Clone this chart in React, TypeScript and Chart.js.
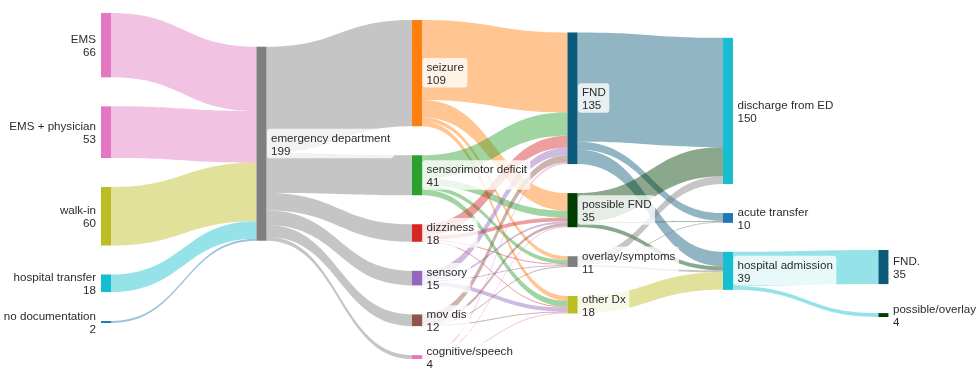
import React, { useEffect, useRef } from "react";
import { Chart, registerables } from "chart.js";

Chart.register(...registerables);

// ---------- data ----------
const nodeLabels = [
  "EMS", "EMS + physician", "walk-in", "hospital transfer", "no documentation",
  "emergency department",
  "seizure", "sensorimotor deficit", "dizziness", "sensory", "mov dis", "cognitive/speech",
  "FND", "possible FND", "overlay/symptoms", "other Dx",
  "discharge from ED", "acute transfer", "hospital admission",
  "FND.", "possible/overlay",
];
const nodeColumn = [0, 0, 0, 0, 0, 1, 2, 2, 2, 2, 2, 2, 3, 3, 3, 3, 4, 4, 4, 5, 5];
const nodeColors = [
  "#e377c2", "#e377c2", "#bcbd22", "#17becf", "#1f77b4",
  "#7f7f7f",
  "#ff7f0e", "#2ca02c", "#d62728", "#9467bd", "#8c564b", "#e377c2",
  "#0b5a7a", "#003f00", "#7f7f7f", "#bcbd22",
  "#17becf", "#1f77b4", "#17becf",
  "#0b5a7a", "#003f00",
];

const linkSource = [
  0, 1, 2, 3, 4,
  5, 5, 5, 5, 5, 5,
  6, 6, 6, 6,
  7, 7, 7, 7,
  8, 8, 8, 8,
  9, 9, 9, 9,
  10, 10, 10, 10,
  11, 11, 11,
  12, 12, 12,
  13, 13, 13,
  14, 14, 14,
  15,
  18, 18,
];
const linkTarget = [
  5, 5, 5, 5, 5,
  6, 7, 8, 9, 10, 11,
  12, 13, 14, 15,
  12, 13, 14, 15,
  12, 13, 14, 15,
  12, 13, 14, 15,
  12, 13, 14, 15,
  12, 13, 15,
  16, 17, 18,
  16, 17, 18,
  16, 17, 18,
  18,
  19, 20,
];
const linkValue = [
  66, 53, 60, 18, 2,
  109, 41, 18, 15, 12, 4,
  82, 18, 4, 5,
  24, 7, 4, 6,
  12, 4, 1, 1,
  8, 2, 1, 4,
  7, 3, 1, 1,
  2, 1, 1,
  112, 8, 15,
  30, 1, 4,
  8, 1, 2,
  18,
  35, 4,
];

// ---------- layout constants (in scale units) ----------
const X_MIN = -0.6495;
const X_MAX = 5.653;
const Y_MAX = 383.6;
const NODE_WIDTH = 0.0643; // in column units
const NODE_GAP = 29.75; // in value units
const COLUMN_TOP = [13.3, 47.9, 20.5, 33.3, 38.8, 256.4];
const LINK_ALPHA = 0.45;
const FONT = "11.6px 'Liberation Sans', Arial, sans-serif";

function hexToRgba(hex: string, a: number) {
  const n = parseInt(hex.slice(1), 16);
  return `rgba(${(n >> 16) & 255},${(n >> 8) & 255},${n & 255},${a})`;
}

type NodeL = { y0: number; y1: number; col: number };
type LinkL = { s: number; t: number; v: number; sy: number; ty: number };

function computeLayout() {
  const n = nodeLabels.length;
  const inSum = new Array(n).fill(0);
  const outSum = new Array(n).fill(0);
  linkValue.forEach((v, i) => {
    outSum[linkSource[i]] += v;
    inSum[linkTarget[i]] += v;
  });
  const nodes: NodeL[] = [];
  const colCursor = COLUMN_TOP.slice();
  for (let i = 0; i < n; i++) {
    const c = nodeColumn[i];
    const val = Math.max(inSum[i], outSum[i]);
    const y0 = colCursor[c];
    nodes.push({ y0, y1: y0 + val, col: c });
    colCursor[c] = y0 + val + NODE_GAP;
  }
  const links: LinkL[] = linkValue.map((v, i) => ({ s: linkSource[i], t: linkTarget[i], v, sy: 0, ty: 0 }));
  for (let i = 0; i < n; i++) {
    const outs = links.filter((l) => l.s === i).sort((a, b) => nodes[a.t].y0 - nodes[b.t].y0);
    let y = nodes[i].y0;
    outs.forEach((l) => { l.sy = y; y += l.v; });
    const ins = links.filter((l) => l.t === i).sort((a, b) => nodes[a.s].y0 - nodes[b.s].y0);
    y = nodes[i].y0;
    ins.forEach((l) => { l.ty = y; y += l.v; });
  }
  return { nodes, links };
}

function roundRect(ctx: CanvasRenderingContext2D, x: number, y: number, w: number, h: number, r: number) {
  ctx.beginPath();
  ctx.moveTo(x + r, y);
  ctx.lineTo(x + w - r, y);
  ctx.quadraticCurveTo(x + w, y, x + w, y + r);
  ctx.lineTo(x + w, y + h - r);
  ctx.quadraticCurveTo(x + w, y + h, x + w - r, y + h);
  ctx.lineTo(x + r, y + h);
  ctx.quadraticCurveTo(x, y + h, x, y + h - r);
  ctx.lineTo(x, y + r);
  ctx.quadraticCurveTo(x, y, x + r, y);
  ctx.closePath();
}

const sankeyPlugin = {
  id: "sankeyDraw",
  afterDatasetsDraw(chart: any) {
    const ctx: CanvasRenderingContext2D = chart.ctx;
    const xs = chart.scales.x;
    const ys = chart.scales.y;
    const { nodes, links } = computeLayout();
    const X = (v: number) => xs.getPixelForValue(v);
    const Y = (v: number) => ys.getPixelForValue(v);

    ctx.save();
    // links
    links.forEach((l) => {
      const sn = nodes[l.s];
      const tn = nodes[l.t];
      const x0 = X(sn.col + NODE_WIDTH);
      const x1 = X(tn.col);
      const xm = (x0 + x1) / 2;
      const a0 = Y(l.sy), a1 = Y(l.sy + l.v);
      const b0 = Y(l.ty), b1 = Y(l.ty + l.v);
      ctx.beginPath();
      ctx.moveTo(x0, a0);
      ctx.bezierCurveTo(xm, a0, xm, b0, x1, b0);
      ctx.lineTo(x1, b1);
      ctx.bezierCurveTo(xm, b1, xm, a1, x0, a1);
      ctx.closePath();
      ctx.fillStyle = hexToRgba(nodeColors[l.s], LINK_ALPHA);
      ctx.fill();
    });
    // nodes
    nodes.forEach((nd, i) => {
      const xl = X(nd.col);
      const xr = X(nd.col + NODE_WIDTH);
      ctx.fillStyle = nodeColors[i];
      ctx.fillRect(xl, Y(nd.y0), xr - xl, Y(nd.y1) - Y(nd.y0));
    });
    // labels
    ctx.font = FONT;
    ctx.textBaseline = "alphabetic";
    nodes.forEach((nd, i) => {
      const cy = (Y(nd.y0) + Y(nd.y1)) / 2;
      const line1 = nodeLabels[i];
      const line2 = String(Math.round(nd.y1 - nd.y0));
      const w = Math.max(ctx.measureText(line1).width, ctx.measureText(line2).width);
      if (nd.col === 0) {
        const xr = X(nd.col) - 5;
        ctx.fillStyle = "#2b2b2b";
        ctx.textAlign = "right";
        ctx.fillText(line1, xr, cy - 2);
        ctx.fillText(line2, xr, cy + 11);
      } else {
        const xl = X(nd.col + NODE_WIDTH);
        ctx.fillStyle = "rgba(255,255,255,0.78)";
        roundRect(ctx, xl + 0.5, cy - 15, w + 7.5, 29.5, 3);
        ctx.fill();
        ctx.fillStyle = "#2b2b2b";
        ctx.textAlign = "left";
        ctx.fillText(line1, xl + 4.5, cy - 2);
        ctx.fillText(line2, xl + 4.5, cy + 11);
      }
    });
    ctx.restore();
  },
};

export default function App() {
  const ref = useRef<HTMLCanvasElement | null>(null);
  useEffect(() => {
    if (!ref.current) return;
    const chart = new Chart(ref.current, {
      type: "scatter",
      data: { datasets: [{ data: [], pointRadius: 0 }] },
      options: {
        responsive: false,
        animation: false,
        layout: { padding: 0 },
        plugins: { legend: { display: false }, tooltip: { enabled: false } },
        scales: {
          x: { type: "linear", min: X_MIN, max: X_MAX, display: false },
          y: { type: "linear", min: 0, max: Y_MAX, reverse: true, display: false },
        },
      },
      plugins: [sankeyPlugin],
    });
    return () => chart.destroy();
  }, []);
  return (
    <div style={{ position: "absolute", left: 0, top: 0, width: 980, height: 374, background: "#fff" }}>
      <canvas ref={ref} width={980} height={374} style={{ display: "block" }} />
    </div>
  );
}
